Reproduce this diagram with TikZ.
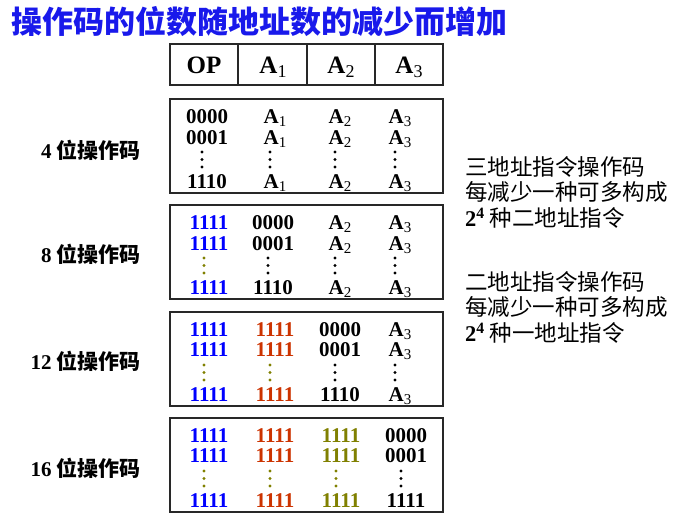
\documentclass[tikz,border=0pt]{standalone}
\usepackage{fontspec}
\setmainfont{Liberation Serif}
\newfontfamily\cjk{Noto Sans CJK SC}
\usetikzlibrary{positioning}
\definecolor{titleblue}{RGB}{25,25,235}
\definecolor{codeblue}{RGB}{0,0,255}
\definecolor{codered}{RGB}{204,51,0}
\definecolor{codeolive}{RGB}{128,128,0}
\definecolor{framegray}{RGB}{40,40,40}
\newcommand{\Asub}[2][15]{A\raisebox{-0.35ex}{\fontsize{#1}{#1}\selectfont\mdseries #2}}

\begin{document}
\begin{tikzpicture}[x=1pt,y=-1pt,
    frame/.style={draw=framegray,line width=1.8pt},
    code/.style={font=\fontsize{21}{21}\selectfont\bfseries,inner sep=0pt,anchor=base,text height=14.5pt,text depth=3pt},
    head/.style={font=\fontsize{25}{25}\selectfont\bfseries,inner sep=0pt},
    oplabel/.style={font=\fontsize{21}{21}\selectfont\bfseries,inner sep=0pt,anchor=east},
    note/.style={font=\fontsize{22.5}{25.5}\selectfont\cjk,inner sep=0pt,anchor=west,align=left}]
  \useasboundingbox (0,0) rectangle (690,522);
  % title
  \node[font=\fontsize{31}{31}\selectfont\cjk\bfseries,text=titleblue,anchor=west,inner sep=0pt] (title) at (11,22){操作码的位数随地址数的减少而增加};
  % instruction format
  \draw[frame] (170,44) rectangle (443,85);
  \foreach \x in {238,307,375} \draw[frame] (\x,44) -- (\x,85);
  \node[head] (op) at (204,65){OP};
  \node[head] (a1) at (273,67){\Asub[18]{1}};
  \node[head] (a2) at (341,67){\Asub[18]{2}};
  \node[head] (a3) at (409,67){\Asub[18]{3}};
  % four groups
  \foreach \t [count=\i] in {99,205,312,418}
    \draw[frame] (170,\t) rectangle (443,\t+94);
  % 4 bit opcode
  \foreach \x/\a/\b/\c/\col [count=\j] in {207/0000/0001/1110/black,275/\Asub1/\Asub1/\Asub1/black,340/\Asub2/\Asub2/\Asub2/black,400/\Asub3/\Asub3/\Asub3/black}{
    \node[code,text=\col] (g1r1c\j) at (\x,123){\a};
    \node[code,text=\col] (g1r2c\j) at (\x,144){\b};
    \foreach \k in {0,1,2} \fill[\col] (\x-5,152+7.5*\k) circle (1.6pt);
    \node[code,text=\col] (g1r3c\j) at (\x,188){\c};
  }
  % 8 bit opcode
  \foreach \x/\a/\b/\c/\col/\dcol [count=\j] in {209/1111/1111/1111/codeblue/codeolive,273/0000/0001/1110/black/black,340/\Asub2/\Asub2/\Asub2/black/black,400/\Asub3/\Asub3/\Asub3/black/black}{
    \node[code,text=\col] (g2r1c\j) at (\x,229){\a};
    \node[code,text=\col] (g2r2c\j) at (\x,250){\b};
    \foreach \k in {0,1,2} \fill[\dcol] (\x-5,258+7.5*\k) circle (1.6pt);
    \node[code,text=\col] (g2r3c\j) at (\x,294){\c};
  }
  % 12 bit opcode
  \foreach \x/\a/\b/\c/\col/\dcol [count=\j] in {209/1111/1111/1111/codeblue/codeolive,275/1111/1111/1111/codered/codeolive,340/0000/0001/1110/black/black,400/\Asub3/\Asub3/\Asub3/black/black}{
    \node[code,text=\col] (g3r1c\j) at (\x,336){\a};
    \node[code,text=\col] (g3r2c\j) at (\x,356){\b};
    \foreach \k in {0,1,2} \fill[\dcol] (\x-5,365+7.5*\k) circle (1.6pt);
    \node[code,text=\col] (g3r3c\j) at (\x,401){\c};
  }
  % 16 bit opcode
  \foreach \x/\a/\b/\c/\col/\dcol [count=\j] in {209/1111/1111/1111/codeblue/codeolive,275/1111/1111/1111/codered/codeolive,341/1111/1111/1111/codeolive/codeolive,406/0000/0001/1111/black/black}{
    \node[code,text=\col] (g4r1c\j) at (\x,442){\a};
    \node[code,text=\col] (g4r2c\j) at (\x,462){\b};
    \foreach \k in {0,1,2} \fill[\dcol] (\x-5,471+7.5*\k) circle (1.6pt);
    \node[code,text=\col] (g4r3c\j) at (\x,507){\c};
  }
  % labels
  \node[oplabel] (l4) at (141,150){4 {\cjk 位操作码}};
  \node[oplabel] (l8) at (141,254){8 {\cjk 位操作码}};
  \node[oplabel] (l12) at (141,361){12 {\cjk 位操作码}};
  \node[oplabel] (l16) at (141,468){16 {\cjk 位操作码}};
  \node[note] (n3) at (465,192){三地址指令操作码\\每减少一种可多构成\\{\bfseries\rmfamily 2\textsuperscript{4}} 种二地址指令};
  \node[note] (n2) at (465,307){二地址指令操作码\\每减少一种可多构成\\{\bfseries\rmfamily 2\textsuperscript{4}} 种一地址指令};
\end{tikzpicture}
\end{document}
